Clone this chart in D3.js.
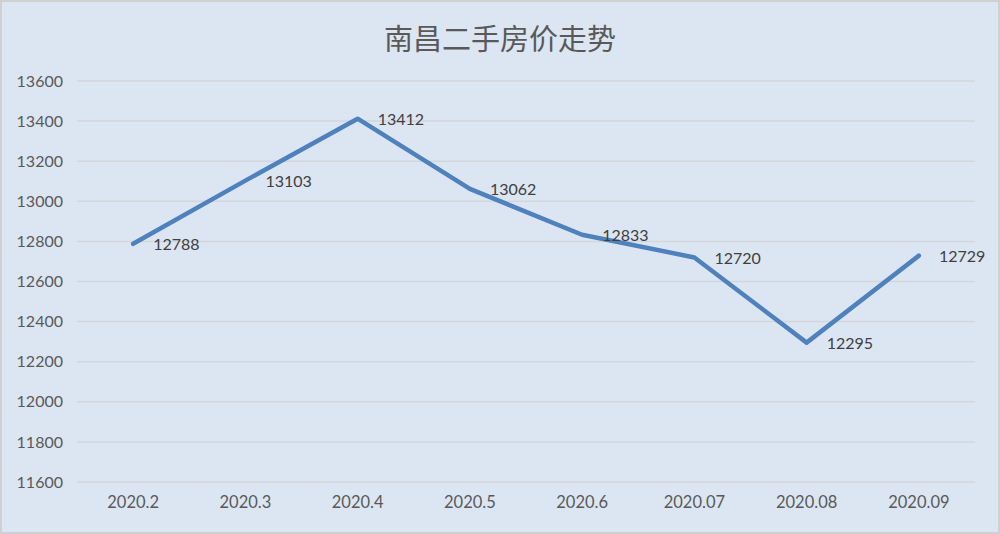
<!DOCTYPE html>
<html>
<head>
<meta charset="utf-8">
<script src="https://cdn.jsdelivr.net/npm/d3@7"></script>
<style>
  html, body { margin: 0; padding: 0; background: #fff; }
  svg { display: block; }
</style>
</head>
<body>
<div id="chart"></div>
<script>
const width = 1000;
const height = 534;

// données
const months = ["2020.2", "2020.3", "2020.4", "2020.5", "2020.6", "2020.07", "2020.08", "2020.09"];
const prices = [12788, 13103, 13412, 13062, 12833, 12720, 12295, 12729];
const yTicks = [11600, 11800, 12000, 12200, 12400, 12600, 12800, 13000, 13200, 13400, 13600];

const margin = { top: 81, right: 25, bottom: 52, left: 77 };

const svg = d3.select("#chart").append("svg")
    .attr("width", width)
    .attr("height", height);

// fond + bordure
svg.append("rect")
    .attr("x", 1).attr("y", 1)
    .attr("width", width - 2).attr("height", height - 2)
    .attr("fill", "#dce6f2")
    .attr("stroke", "#d0d0d0")
    .attr("stroke-width", 2);

const x = d3.scaleBand()
    .domain(months)
    .range([margin.left, width - margin.right]);

const y = d3.scaleLinear()
    .domain([11600, 13600])
    .range([height - margin.bottom, margin.top]);

// titre
svg.append("text")
    .attr("x", 500)
    .attr("y", 37)
    .attr("text-anchor", "middle")
    .attr("dominant-baseline", "central")
    .attr("font-family", "'Noto Sans CJK SC', sans-serif")
    .attr("font-size", 29)
    .attr("fill", "#595959")
    .text("南昌二手房价走势");

// grille
svg.append("g")
    .selectAll("line")
    .data(yTicks)
    .enter().append("line")
    .attr("x1", margin.left)
    .attr("x2", width - margin.right)
    .attr("y1", d => y(d))
    .attr("y2", d => y(d))
    .attr("stroke", "#d3d6da")
    .attr("stroke-width", 1.5);

// axe Y
const yAxis = svg.append("g")
    .attr("transform", `translate(${margin.left - 14},0)`)
    .call(d3.axisLeft(y).tickValues(yTicks).tickFormat(d3.format("d")).tickSize(0).tickPadding(0));
yAxis.select(".domain").remove();
yAxis.selectAll("text")
    .attr("font-family", "Lato, 'Open Sans', sans-serif")
    .attr("font-size", 16)
    .attr("fill", "#595959");

// axe X
const xAxis = svg.append("g")
    .attr("transform", `translate(0,${height - margin.bottom + 14})`)
    .call(d3.axisBottom(x).tickSize(0).tickPadding(0));
xAxis.select(".domain").remove();
xAxis.selectAll("text")
    .attr("dy", "0.71em")
    .attr("font-family", "Lato, 'Open Sans', sans-serif")
    .attr("font-size", 16.5)
    .attr("fill", "#595959");

// ligne
const line = d3.line()
    .x((d, i) => x(months[i]) + x.bandwidth() / 2)
    .y(d => y(d));

svg.append("path")
    .datum(prices)
    .attr("d", line)
    .attr("fill", "none")
    .attr("stroke", "#4f81bd")
    .attr("stroke-width", 4.5)
    .attr("stroke-linejoin", "round")
    .attr("stroke-linecap", "round");

// étiquettes
svg.append("g")
    .selectAll("text")
    .data(prices)
    .enter().append("text")
    .attr("x", (d, i) => x(months[i]) + x.bandwidth() / 2 + 20)
    .attr("y", d => y(d))
    .attr("dominant-baseline", "central")
    .attr("font-family", "Lato, 'Open Sans', sans-serif")
    .attr("font-size", 16)
    .attr("fill", "#404040")
    .text(d => d);
</script>
</body>
</html>
